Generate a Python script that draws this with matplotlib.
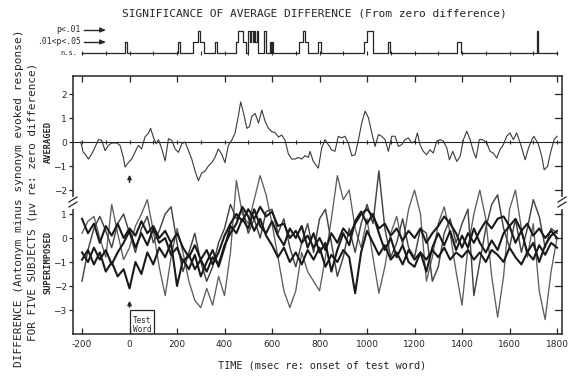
import matplotlib.pyplot as plt
from matplotlib.lines import Line2D
from matplotlib.patches import Rectangle

# ---- data ----
# significance strip: (start ms, end ms, level) 1 = .01<p<.05, 2 = p<.01
sig_start = [-20, 205, 266, 290, 296, 358, 448, 456, 478, 500, 506, 512, 518, 524, 530, 536,
             568, 590, 600, 715, 730, 740, 792, 987, 998, 1090, 1377, 1714]
sig_end = [-12, 211, 290, 296, 314, 370, 456, 478, 490, 506, 512, 518, 524, 530, 536, 542,
           573, 594, 604, 730, 740, 752, 808, 998, 1024, 1096, 1395, 1719]
sig_level = [1, 1, 1, 2, 1, 1, 1, 2, 1, 2, 1, 2, 1, 2, 1, 2,
             2, 1, 1, 1, 2, 1, 1, 1, 2, 1, 1, 2]

# averaged difference (uV)
avg_ms = [-205, -195, -187, -173, -159, -145, -131, -117, -103, -89, -75, -54, -40, -26, -19, -5,
          9, 23, 37, 51, 65, 79, 89, 100, 112, 122, 136, 150, 164, 178, 192, 206, 220, 234, 248,
          262, 276, 290, 304, 318, 332, 346, 360, 374, 388, 402, 416, 430, 444, 458, 468, 480,
          494, 505, 515, 529, 543, 557, 571, 585, 599, 613, 627, 641, 655, 669, 683, 697, 711,
          725, 739, 753, 760, 774, 795, 809, 823, 837, 851, 865, 879, 893, 907, 921, 936, 950,
          964, 978, 992, 1006, 1020, 1034, 1048, 1062, 1076, 1090, 1104, 1118, 1132, 1146, 1160,
          1174, 1188, 1202, 1212, 1223, 1237, 1251, 1265, 1279, 1293, 1308, 1322, 1336, 1347,
          1361, 1378, 1392, 1406, 1420, 1434, 1448, 1459, 1473, 1487, 1504, 1518, 1532, 1546,
          1560, 1574, 1588, 1602, 1616, 1630, 1645, 1666, 1680, 1694, 1703, 1722, 1736, 1746,
          1760, 1774, 1788, 1800]
avg_val = [0.0, -0.43, -0.5, -0.71, -0.5, -0.21, 0.1, 0.07, -0.36, -0.14, -0.04, -0.04, -0.14,
           -0.64, -1.04, -0.86, -0.71, -0.43, -0.14, -0.29, 0.21, 0.36, 0.57, 0.21, -0.07, 0.1,
           -0.29, -0.79, 0.14, 0.07, -0.29, -0.43, -0.07, 0.0, -0.36, -0.71, -1.21, -1.61, -1.29,
           -1.21, -1.0, -0.86, -0.64, -0.29, -0.5, -0.86, -0.14, 0.07, 0.36, 1.07, 1.67, 1.21,
           0.57, 0.64, 1.07, 1.19, 0.79, 1.33, 0.86, 0.57, 0.43, 0.39, 0.21, 0.29, 0.07, -0.5,
           -0.71, -0.71, -0.64, -0.71, -0.57, -0.64, -0.39, -0.81, -1.09, -0.25, 0.1, -0.11,
           -0.32, -0.39, 0.24, 0.17, 0.24, -0.04, -0.57, -0.53, 0.1, 0.8, 1.29, 1.01, 0.38,
           -0.18, 0.31, 0.24, 0.1, -0.39, 0.24, 0.24, -0.18, -0.11, 0.1, 0.17, -0.04, 0.03, 0.38,
           -0.11, -0.39, -0.53, -0.32, -0.46, 0.03, 0.1, 0.03, -0.25, -0.74, -0.39, -0.81, -0.6,
           0.1, 0.45, 0.1, -0.39, -0.67, 0.1, 0.1, -0.04, -0.39, -0.46, -0.67, -0.32, -0.11,
           0.24, 0.38, 0.1, 0.38, -0.04, -0.74, -0.25, 0.1, 0.24, -0.11, -0.6, -1.16, -1.02,
           -0.39, 0.1, 0.24]

# five subjects, superimposed (uV), sampled every 25 ms from -200 to 1800
sup_ms = list(range(-200, 1801, 25))
subj1 = [0.2, 0.7, 0.9, 0.0, -0.8, 1.4, 0.2, -0.9, -0.4, 0.5, 1.0, 1.6, 0.3, -1.2, -2.4, -0.8,
         0.4, -0.6, -1.8, -2.6, -2.9, -2.1, -2.8, -1.6, -2.4, -0.6, 2.4, 1.0, 0.6, 1.6, 2.6, 1.8,
         0.6, -0.8, -2.2, -2.9, -2.2, -0.6, -1.4, -1.8, -2.2, -0.8, 0.8, 2.6, 1.6, 2.0, 0.4, -0.4,
         0.8, -0.8, -2.3, -1.2, 0.2, 0.9, -0.3, 1.2, 2.0, 1.0, -1.8, -0.8, 0.6, 1.3, 0.2, -1.4,
         -2.8, -0.4, 1.0, 2.0, 0.8, -1.6, -3.3, -1.6, 1.2, 2.0, 0.4, -0.8, 0.6, -2.2, -3.4, -1.4,
         0.0]
subj2 = [-1.8, -0.5, 0.4, 0.9, 0.3, -0.4, 0.6, 1.0, 0.2, -0.6, 0.4, 0.9, -0.2, 0.3, 1.0, 1.3,
         -0.2, -1.4, -0.6, 0.2, -1.0, -1.8, -1.2, -0.2, 0.4, 1.4, 0.8, 1.2, 0.2, 0.8, 0.0, 1.1,
         1.2, 0.2, 0.8, -0.4, -1.2, -0.2, 0.6, -0.6, 0.8, 1.2, -0.2, -1.6, -0.8, 0.4, -0.6, 0.6,
         1.4, 0.6, 2.8, 0.4, -0.8, -0.2, 0.8, -0.4, -0.8, 0.4, 0.2, -1.8, -1.2, 0.2, 0.8, -0.2,
         0.6, 1.2, -2.4, -1.0, 0.4, 1.4, 1.8, 0.4, -0.4, 0.8, -0.6, 0.4, 1.6, 0.9, -0.4, 0.4, 0.2]
subj3 = [0.8, 0.2, 0.6, -0.2, 0.5, 0.1, 0.6, 0.0, 0.4, 0.1, 0.7, 0.2, 0.5, 0.0, 0.3, -0.2,
         0.2, -0.4, -0.8, -0.3, -0.9, -0.5, -1.1, -0.6, 0.1, 0.6, 1.0, 0.7, 1.2, 0.8, 1.3, 0.9,
         1.1, 0.5, 0.6, 0.0, 0.3, -0.2, 0.1, -0.4, 0.0, -0.5, 0.2, -0.2, 0.4, 0.1, 0.6, 1.0,
         1.2, 0.9, 0.4, 0.6, 0.1, 0.4, -0.1, 0.3, 0.0, 0.4, -0.2, 0.2, 0.5, 0.9, 0.6, 0.2,
         -0.4, 0.2, -0.2, 0.3, 0.7, 0.4, 0.8, 0.9, 0.5, 0.8, 0.3, 0.6, 0.1, 0.4, 0.0, 0.3, 0.0]
subj4 = [-0.6, -1.0, -0.4, -0.9, -0.5, -1.1, -0.6, -0.2, 0.3, -0.4, 0.2, -0.3, 0.4, -0.2, 0.0,
         -0.7, -0.4, -1.0, -0.7, -1.3, -0.9, -1.4, -0.8, -1.1, -0.3, 0.2, 0.6, 1.3, 0.9, 0.3,
         0.8, 0.1, -0.3, -0.8, -0.4, -1.0, -0.6, -1.1, -0.5, -0.9, -0.4, -1.2, -0.7, -1.0, -0.5,
         -0.8, -2.3, -0.6, 0.3, -0.2, -0.7, -0.3, -0.9, -0.6, -1.1, -0.5, -0.9, -0.6, -0.9,
         -0.5, -0.8, -0.4, -0.9, -0.6, -0.8, -0.5, -0.9, -0.6, -1.0, -0.5, -0.7, -1.0, -0.4,
         -0.8, -1.1, -0.6, -0.9, -0.3, -0.7, -0.2, -0.4]
subj5 = [-0.9, -0.5, -1.1, -0.6, -1.4, -1.0, -1.6, -1.3, -2.1, -1.0, -1.5, -0.6, -1.1, -0.4,
         -0.8, -0.2, -2.0, -0.9, -1.3, -0.7, -1.6, -1.0, -0.5, -1.2, -0.4, 0.5, 0.2, 0.8, 0.4,
         1.2, 0.5, 0.2, 0.7, 0.1, -0.3, 0.4, 0.0, 0.5, -0.4, 0.2, -0.6, -0.2, -1.4, -0.5, 0.2,
         -0.3, 0.7, 1.1, 0.6, 1.0, 0.2, -0.5, 0.0, -0.8, -0.3, -1.0, -1.2, -0.6, -1.4, -0.4,
         0.2, -0.3, 0.3, -0.5, 0.1, -0.4, 0.4, -0.2, -0.6, -0.1, -0.5, 0.2, 0.5, -0.2, 0.3,
         -0.6, -0.2, -1.0, -0.3, 0.1, 0.3]

time_ticks = [-200, 0, 200, 400, 600, 800, 1000, 1200, 1400, 1600, 1800]
minor_marks = list(range(-200, 1801, 100))

# ---- layout in pixels of the 573x378 picture ----
W, H = 573, 378
L, R = 73, 562
ink = '#262626'
mono = 'DejaVu Sans Mono'


def fx(px):
    return px / W


def fy(py):
    return 1 - py / H


fig = plt.figure(figsize=(5.73, 3.78), dpi=100)
ax_sig = fig.add_axes([fx(L), fy(58), (R - L) / W, 34 / H])
ax_avg = fig.add_axes([fx(L), fy(203), (R - L) / W, 127 / H])
ax_sup = fig.add_axes([fx(L), fy(334), (R - L) / W, 131 / H])
xlim = (-238, 1821)

# significance strip
level_at = {}
for e in sig_end:
    level_at[e] = 0
for s, lv in zip(sig_start, sig_level):
    level_at[s] = lv
xs = [-200] + sorted(level_at) + [1800]
ys = [0] + [level_at[k] for k in sorted(level_at)] + [0]
ax_sig.step(xs, ys, where='post', color=ink, lw=0.9)
ax_sig.plot(minor_marks, [0] * len(minor_marks), '|', color=ink, ms=3.5, mew=0.8)
ax_sig.set_xlim(xlim)
ax_sig.set_ylim(-0.45, 2.64)
ax_sig.axis('off')

# averaged panel
ax_avg.plot(avg_ms, avg_val, color='#3a3a3a', lw=0.8)
ax_avg.axhline(0, color=ink, lw=0.8)
ax_avg.plot(minor_marks, [0] * len(minor_marks), '|', color=ink, ms=3, mew=0.8)
ax_avg.set_xlim(xlim)
ax_avg.set_ylim(-2.54, 2.75)
ax_avg.set_yticks([-2, -1, 0, 1, 2])
ax_avg.set_xticks(time_ticks)
ax_avg.tick_params(axis='x', direction='in', top=True, bottom=False, labelbottom=False,
                   length=4, width=0.9, color=ink)
ax_avg.tick_params(axis='y', direction='out', left=True, right=False, length=3, width=0.9,
                   color=ink, labelsize=6.5, pad=1.5)
ax_avg.spines['bottom'].set_visible(False)

# superimposed panel
for vals, col, lw in [(subj1, '#5e5e5e', 0.95), (subj2, '#444444', 1.05),
                      (subj3, '#1a1a1a', 1.5), (subj4, '#1a1a1a', 1.5), (subj5, '#1a1a1a', 1.5)]:
    ax_sup.plot(sup_ms, vals, color=col, lw=lw, clip_on=False)
ax_sup.set_xlim(xlim)
ax_sup.set_ylim(-4.0, 1.46)
ax_sup.set_yticks([-3, -2, -1, 0, 1])
ax_sup.set_xticks(time_ticks)
ax_sup.tick_params(axis='x', direction='in', bottom=True, top=False, length=4, width=0.9,
                   color=ink, labelsize=6.5, pad=4)
ax_sup.tick_params(axis='y', direction='out', left=True, right=False, length=3, width=0.9,
                   color=ink, labelsize=6.5, pad=1.5)
ax_sup.set_xticklabels(['-200', '0', '200', '400', '600', '800', '1000', '1200', '1400',
                        '1600', '1800'])
ax_sup.spines['top'].set_visible(False)

for ax in (ax_avg, ax_sup):
    for sp in ax.spines.values():
        sp.set_color(ink)
        sp.set_linewidth(1.1)
    for lab in ax.get_xticklabels() + ax.get_yticklabels():
        lab.set_color(ink)
    # inward marks on the right frame
    for t in ax.get_yticks():
        ax.plot([1, 0.985], [t, t], transform=ax.get_yaxis_transform(), color=ink, lw=0.9,
                clip_on=False)

# break marks on both side frames
for xb in (L, R):
    fig.add_artist(Line2D([fx(xb), fx(xb)], [fy(199), fy(207)], color='white', lw=3))
    fig.add_artist(Line2D([fx(xb - 4), fx(xb + 4)], [fy(202), fy(197)], color=ink, lw=0.9))
    fig.add_artist(Line2D([fx(xb - 4), fx(xb + 4)], [fy(207), fy(202)], color=ink, lw=0.9))

# stimulus arrows and box
ax_avg.annotate('', xy=(0, -1.25), xytext=(0, -1.8),
                arrowprops=dict(arrowstyle='-|>', color=ink, lw=1.0, mutation_scale=6))
ax_sup.annotate('', xy=(0, -2.5), xytext=(0, -3.0),
                arrowprops=dict(arrowstyle='-|>', color=ink, lw=1.0, mutation_scale=6))
ax_sup.add_patch(Rectangle((0, -4.0), 105, 1.0, fill=False, ec=ink, lw=0.9))
ax_sup.text(52, -3.42, 'Test', ha='center', va='center', fontsize=5.5, family=mono, color=ink)
ax_sup.text(52, -3.8, 'Word', ha='center', va='center', fontsize=5.5, family=mono, color=ink)

# strip legend
for py, lab in [(30, 'p<.01'), (42, '.01<p<.05')]:
    fig.text(fx(81), fy(py), lab, ha='right', va='center', fontsize=5.8, family=mono, color=ink)
    fig.add_artist(Line2D([fx(84), fx(103)], [fy(py), fy(py)], color=ink, lw=1.0))
    ax_sig.annotate('', xy=(fx(108), fy(py)), xytext=(fx(100), fy(py)),
                    xycoords='figure fraction', textcoords='figure fraction',
                    arrowprops=dict(arrowstyle='-|>', color=ink, lw=1.0, mutation_scale=7))
fig.text(fx(77), fy(53), 'n.s.', ha='right', va='center', fontsize=5, family=mono, color=ink)

# titles and labels
fig.text(fx(314), fy(14), 'SIGNIFICANCE OF AVERAGE DIFFERENCE (From zero difference)',
         ha='center', va='center', fontsize=8.1, family=mono, color=ink)
fig.text(fx(19), fy(198), 'DIFFERENCE (Antonym minus synonym evoked response)', rotation=90,
         ha='center', va='center', fontsize=8.0, family=mono, color=ink)
fig.text(fx(33), fy(202), 'FOR FIVE SUBJECTS (\u03bcv re: zero difference)', rotation=90,
         ha='center', va='center', fontsize=7.9, family=mono, color=ink)
fig.text(fx(48), fy(142), 'AVERAGED', rotation=90, ha='center', va='center', fontsize=6.2,
         family=mono, weight='bold', color=ink)
fig.text(fx(48), fy(263), 'SUPERIMPOSED', rotation=90, ha='center', va='center', fontsize=6.2,
         family=mono, weight='bold', color=ink)
fig.text(fx(322), fy(366), 'TIME (msec re: onset of test word)', ha='center', va='center',
         fontsize=7.4, family=mono, color=ink)

fig.savefig('out.png', dpi=100)
